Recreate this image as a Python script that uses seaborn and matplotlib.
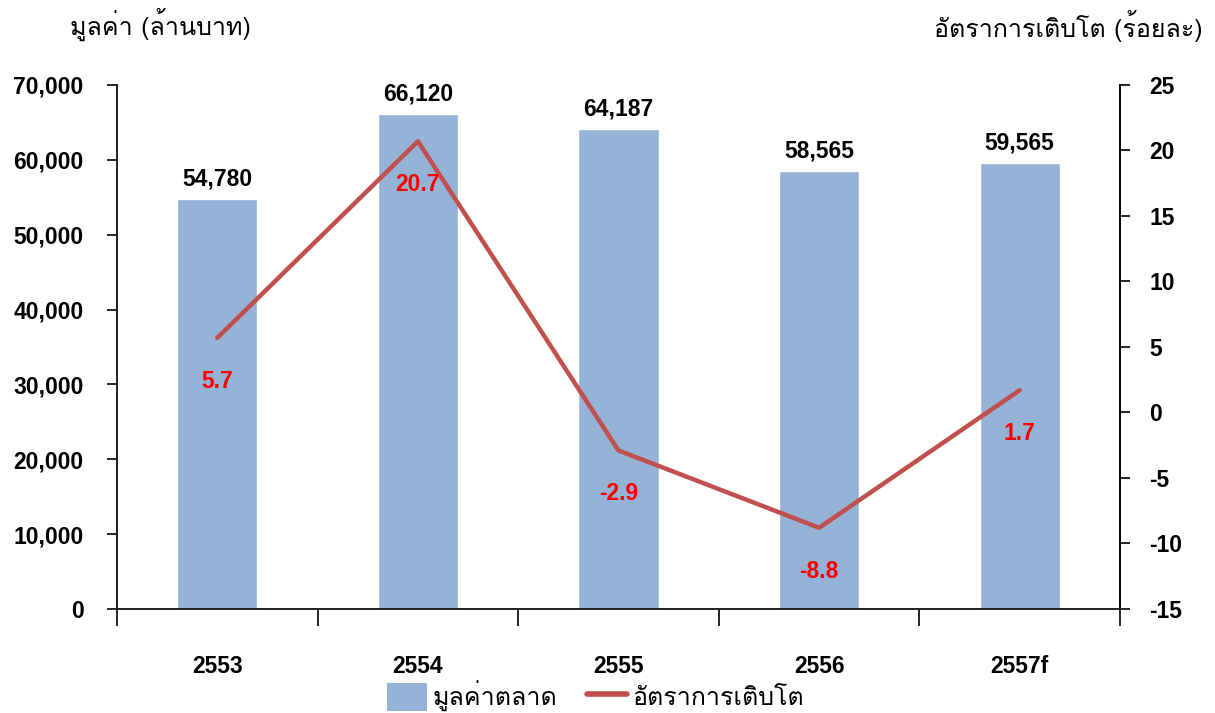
import matplotlib
matplotlib.use("Agg")
import matplotlib.pyplot as plt
from matplotlib import font_manager
from matplotlib.ft2font import FT2Font
from matplotlib.patches import Patch
from matplotlib.lines import Line2D
import seaborn as sns
import pandas as pd

years = ["2553", "2554", "2555", "2556", "2557f"]
market_value = [54780, 66120, 64187, 58565, 59565]
growth = [5.7, 20.7, -2.9, -8.8, 1.7]
value_labels = ["54,780", "66,120", "64,187", "58,565", "59,565"]
growth_labels = ["5.7", "20.7", "-2.9", "-8.8", "1.7"]
left_ticks = [0, 10000, 20000, 30000, 40000, 50000, 60000, 70000]
right_ticks = [-15, -10, -5, 0, 5, 10, 15, 20, 25]
left_title = "มูลค่า (ล้านบาท)"
right_title = "อัตราการเติบโต (ร้อยละ)"
legend_labels = ["มูลค่าตลาด", "อัตราการเติบโต"]

BAR_C = "#95B3D7"
LINE_C = "#C0504D"
FS = 16.5

sns.set_theme(style="white")

# find a font with Thai glyphs
thai_family = None
for fe in font_manager.fontManager.ttflist:
    try:
        f = FT2Font(fe.fname)
        if 0x0E21 in f.get_charmap():
            thai_family = fe.name
            if "Sans" in fe.name or "Loma" in fe.name or "Garuda" in fe.name:
                break
    except Exception:
        pass
fams = ["Liberation Sans", "DejaVu Sans"]
if thai_family:
    fams = ["Liberation Sans", thai_family, "DejaVu Sans"]
plt.rcParams["font.family"] = fams
plt.rcParams["text.color"] = "black"
plt.rcParams["xtick.color"] = "black"
plt.rcParams["ytick.color"] = "black"
plt.rcParams["axes.labelcolor"] = "black"
thai_fams = ([thai_family] if thai_family else []) + ["DejaVu Sans"]

df = pd.DataFrame({"year": years, "value": market_value, "growth": growth})

fig = plt.figure(figsize=(12.15, 7.13), dpi=100)
ax = fig.add_axes([0.0963, 0.1459, 0.8255, 0.7349])
sns.barplot(data=df, x="year", y="value", color=BAR_C, width=0.4,
            saturation=1, ax=ax, zorder=2)
ax.set_ylim(0, 70000)
ax.set_xlim(-0.5, 4.5)
ax.set_yticks(left_ticks)
ax.set_yticklabels([f"{t:,}" for t in left_ticks], fontsize=FS, fontweight="bold")
ax.set_xlabel("")
ax.set_ylabel("")

# x ticks at category boundaries, labels below
ax.set_xticks([-0.5, 0.5, 1.5, 2.5, 3.5, 4.5])
ax.set_xticklabels([])
ax.tick_params(axis="x", which="major", direction="out", length=12, width=1.2,
               color="black", bottom=True)
ax.set_xticks(range(len(years)), minor=True)
ax.set_xticklabels(years, minor=True, fontsize=FS, fontweight="bold")
ax.tick_params(axis="x", which="minor", length=0, pad=33, labelcolor="black")
ax.tick_params(axis="y", direction="out", length=7, width=1.2, color="black",
               left=True, pad=17, labelcolor="black")

ax.spines["top"].set_visible(False)
for s in ["left", "bottom", "right"]:
    ax.spines[s].set_color("black")
    ax.spines[s].set_linewidth(1.2)

for i, (v, lab) in enumerate(zip(market_value, value_labels)):
    ax.annotate(lab, (i, v), xytext=(0, 6), textcoords="offset points",
                ha="center", va="bottom", fontsize=FS, fontweight="bold",
                color="black")

ax2 = ax.twinx()
sns.lineplot(x=list(range(len(years))), y=growth, color=LINE_C, linewidth=3.2,
             ax=ax2, sort=False, zorder=3)
ax2.set_ylim(-15, 25)
ax2.set_xlim(-0.5, 4.5)
ax2.set_yticks(right_ticks)
ax2.set_yticklabels([str(t) for t in right_ticks], fontsize=FS, fontweight="bold")
ax2.tick_params(axis="y", direction="out", length=7, width=1.2, color="black",
                right=True, pad=14, labelcolor="black")
ax2.spines["top"].set_visible(False)
ax2.spines["right"].set_color("black")
ax2.spines["right"].set_linewidth(1.2)
ax2.set_ylabel("")

for i, (g, lab) in enumerate(zip(growth, growth_labels)):
    ax2.annotate(lab, (i, g), xytext=(0, -23), textcoords="offset points",
                 ha="center", va="top", fontsize=FS, fontweight="bold",
                 color="#FF0000")

fig.text(70 / 1215, 1 - 24 / 713, left_title, ha="left", va="center",
         fontsize=18, family=thai_fams, color="black")
fig.text(1203 / 1215, 1 - 26 / 713, right_title, ha="right", va="center",
         fontsize=18, family=thai_fams, color="black")

handles = [Patch(facecolor=BAR_C, edgecolor="none"),
           Line2D([0], [0], color=LINE_C, linewidth=4)]
leg = fig.legend(handles, legend_labels, loc="center", bbox_to_anchor=(0.49, 0.024),
                 ncol=2, frameon=False, handlelength=1.6, handleheight=1.4,
                 columnspacing=1.2, handletextpad=0.2,
                 prop={"family": thai_fams, "size": 18})

fig.savefig("out.png", dpi=100)
